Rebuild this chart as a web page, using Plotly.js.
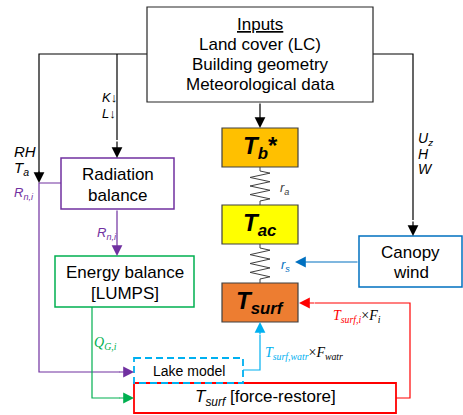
<!DOCTYPE html>
<html>
<head>
<meta charset="utf-8">
<script src="https://cdn.plot.ly/plotly-3.0.1.min.js"></script>
<style>html,body{margin:0;padding:0;background:#fff;}#chart{width:463px;height:415px;}</style>
</head>
<body>
<div id="chart"></div>
<script>
// ---- Diagram content (text) ----
const inputLines = ["<u>Inputs</u>", "Land cover (LC)", "Building geometry", "Meteorological data"];
const radiationLines = ["Radiation", "balance"];
const energyLines = ["Energy balance", "[LUMPS]"];
const canopyLines = ["Canopy", "wind"];
const lakeLabel = "Lake model";
const forceRestoreLabel = "<i>T<sub>surf</sub></i> [force-restore]";
const tempNodes = ["<b><i>T<sub>b</sub></i>*</b>", "<b><i>T<sub>ac</sub></i></b>", "<b><i>T<sub>surf</sub></i></b>"];
const nodeFills = ["#FFC000", "#FFFF00", "#ED7D31"];
const resistLabels = ["<i>r<sub>a</sub></i>", "<i>r<sub>s</sub></i>"];
const shortwaveLabels = ["<i>K</i>↓", "<i>L</i>↓"];
const metLabels = ["<i>RH</i>", "<i>T<sub>a</sub></i>"];
const windLabels = ["<i>U<sub>z</sub></i>", "<i>H</i>", "<i>W</i>"];
const netRadLabel = "<i>R<sub>n,i</sub></i>";
const groundFluxLabel = "<i>Q<sub>G,i</sub></i>";
const waterLabel = ["<i>T<sub>surf,watr</sub></i>", "×<i>F<sub>watr</sub></i>"];
const landLabel = ["<i>T<sub>surf,i</sub></i>", "×<i>F<sub>i</sub></i>"];

// ---- colours ----
const C = {black:"#000000", purple:"#7030A0", green:"#00B050", cyan:"#00B0F0", blue:"#0070C0", red:"#FF0000", spring:"#404040"};
const SANS = "Liberation Sans, Arial, sans-serif";
const SERIF = "Liberation Serif, DejaVu Serif, serif";

const shapes = [];
const annotations = [];
const traces = [];

function rect(x0, y0, x1, y1, line, fill, dash, w) {
  shapes.push({type:"rect", xref:"x", yref:"y", x0, y0, x1, y1,
    line:{color:line, width:w || 1.5, dash:dash || "solid"}, fillcolor:fill || "rgba(0,0,0,0)", layer:"above"});
}
function poly(pts, color, w) {
  const d = pts.map((p, i) => (i ? "L" : "M") + p[0] + "," + p[1]).join(" ");
  shapes.push({type:"path", xref:"x", yref:"y", path:d, line:{color, width:w || 1.2}, layer:"above"});
}
function arrow(x, y, ax, ay, color) {
  annotations.push({x, y, ax, ay, xref:"x", yref:"y", axref:"x", ayref:"y", text:"", showarrow:true,
    arrowhead:2, arrowsize:1.8, arrowwidth:1.2, arrowcolor:color});
}
function label(x, y, text, size, color, family, xanchor) {
  annotations.push({x, y, xref:"x", yref:"y", text, showarrow:false, xanchor:xanchor || "center", yanchor:"middle",
    font:{size, color:color || "#000", family:family || SANS}});
}
function spring(xc, y0, y1) {
  const n = 7, amp = 10, pad = 4;
  const xs = [xc], ys = [y0];
  xs.push(xc); ys.push(y0 + pad);
  for (let k = 1; k <= n; k++) {
    xs.push(xc + (k % 2 ? amp : -amp));
    ys.push(y0 + pad + (y1 - y0 - 2 * pad) * (k - 0.5) / n);
  }
  xs.push(xc); ys.push(y1 - pad);
  xs.push(xc); ys.push(y1);
  traces.push({x:xs, y:ys, mode:"lines", line:{color:C.spring, width:1}, hoverinfo:"skip"});
}

// ---- connectors (drawn first) ----
poly([[147,54],[39,54],[39,176]], C.black);
arrow(39, 183, 39, 170, C.black);
arrow(117, 158, 117, 140, C.black);
poly([[117,54],[117,140]], C.black);
arrow(260, 128, 260, 102, C.black);
poly([[373,54],[413,54],[413,220]], C.black);
arrow(413, 236, 413, 220, C.black);
poly([[61,183],[39,183],[39,372],[120,372]], C.purple);
arrow(134, 372, 118, 372, C.purple);
arrow(117, 256, 117, 209, C.purple);
poly([[92,307],[92,398],[120,398]], C.green);
arrow(134, 398, 118, 398, C.green);
arrow(295, 262, 359, 262, C.blue);
poly([[243,370],[260,370],[260,335]], C.cyan);
arrow(260, 322, 260, 336, C.cyan);
poly([[396,398],[410,398],[410,303],[315,303]], C.red);
arrow(299, 303, 316, 303, C.red);

spring(260, 167, 205);
spring(260, 244, 283);

// ---- boxes ----
rect(147, 7, 373, 102, "#262626", "#ffffff", "solid", 1.2);
inputLines.forEach((t, i) => label(260, 24 + i * 20, t, 17));

rect(61, 158, 174, 209, C.purple, "#ffffff");
radiationLines.forEach((t, i) => label(117.5, 174 + i * 21, t, 17));

rect(55, 256, 194, 307, C.green, "#ffffff");
energyLines.forEach((t, i) => label(124.5, 272 + i * 21, t, 17));

rect(359, 236, 462, 287, C.blue, "#ffffff");
canopyLines.forEach((t, i) => label(410.5, 252 + i * 20, t, 17));

rect(134, 383, 396, 413, C.red, "#ffffff", "solid", 1.8);
label(265, 398, forceRestoreLabel, 17);
rect(134, 358, 243, 383, C.cyan, "rgba(0,0,0,0)", "7px,4px", 1.8);
label(189, 371, lakeLabel, 14);

const nodeY = [[128,167],[205,244],[283,322]];
tempNodes.forEach((t, i) => {
  rect(222, nodeY[i][0], 298, nodeY[i][1], "#404040", nodeFills[i], "solid", 1.2);
  label(260, (nodeY[i][0] + nodeY[i][1]) / 2, t, 24);
});

// ---- labels ----
label(278, 188, resistLabels[0], 13, "#404040", SANS, "left");
label(279, 265, resistLabels[1], 13, C.blue, SANS, "left");
shortwaveLabels.forEach((t, i) => label(100, 97 + i * 16, t, 13, "#000", SANS, "left"));
metLabels.forEach((t, i) => label(12, 151 + i * 17, t, 15, "#000", SANS, "left"));
label(12, 193, netRadLabel, 13, C.purple, SANS, "left");
label(95, 233, netRadLabel, 13, C.purple, SANS, "left");
windLabels.forEach((t, i) => label(416, 139 + i * 15, t, 14, "#000", SANS, "left"));
label(92, 343, groundFluxLabel, 14, C.green, SERIF, "left");
label(263, 353, '<span style="color:' + C.cyan + '">' + waterLabel[0] + '</span>' + waterLabel[1], 14, "#000", SERIF, "left");
label(331, 316, '<span style="color:' + C.red + '">' + landLabel[0] + '</span>' + landLabel[1], 14, "#000", SERIF, "left");

const layout = {
  width:463, height:415,
  margin:{l:0, r:0, t:0, b:0, pad:0},
  paper_bgcolor:"#ffffff", plot_bgcolor:"#ffffff",
  showlegend:false,
  xaxis:{range:[0,463], visible:false, fixedrange:true},
  yaxis:{range:[415,0], visible:false, fixedrange:true},
  shapes, annotations
};
Plotly.newPlot("chart", traces, layout, {staticPlot:true, displayModeBar:false});
</script>
</body>
</html>
